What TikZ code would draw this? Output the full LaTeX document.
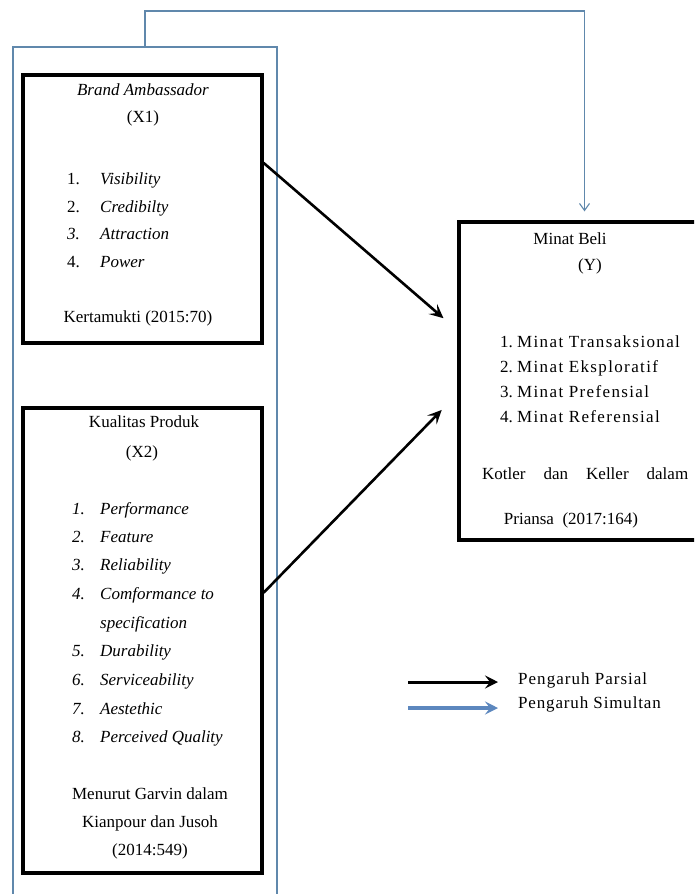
\documentclass[tikz,border=0pt]{standalone}
\usepackage{fontspec}
\setmainfont{Liberation Serif}
\usetikzlibrary{arrows.meta,calc}
\definecolor{lineblue}{RGB}{96,136,172}
\definecolor{legblue}{RGB}{92,135,190}
\begin{document}
\begin{tikzpicture}[x=1pt,y=-1pt,
  txt/.style={inner sep=0pt, font=\fontsize{17}{20}\selectfont},
  lft/.style={txt, anchor=mid west},
  ctr/.style={txt, anchor=mid},
  wide/.style={font=\fontsize{17}{20}\selectfont\addfontfeatures{LetterSpace=#1}},
  varbox/.style={draw=black, line width=3.2pt, inner sep=0pt},
  grpbox/.style={draw=lineblue, line width=1.1pt, inner sep=0pt},
  partial/.style={draw=black, line width=2.6pt, -{Stealth[length=14pt,width=13pt,inset=6pt]}},
  simul/.style={draw=lineblue, line width=1.1pt, -{Straight Barb[length=7pt,width=10pt]}}
]
\useasboundingbox (0,0) rectangle (694,894);
\clip (0,0) rectangle (694,894);
\fill[white] (0,0) rectangle (694,894);

% boxes
\node[grpbox, minimum width=264pt, minimum height=863pt] (grp) at (145,478.5) {};
\node[varbox, minimum width=239pt, minimum height=268pt] (x1) at (142.5,209) {};
\node[varbox, minimum width=239pt, minimum height=465pt] (x2) at (142.5,640.5) {};
\node[varbox, minimum width=251pt, minimum height=318pt] (y) at (584.5,381) {};

% X1 text
\node[ctr] (x1t) at (143,93) {\textit{Brand Ambassador}};
\node[ctr] (x1v) at (143,120) {(X1)};
\node[lft] (x1n1) at (67,182) {1.};   \node[lft] (x1i1) at (100,182) {\textit{Visibility}};
\node[lft] (x1n2) at (67,210) {2.};   \node[lft] (x1i2) at (100,210) {\textit{Credibilty}};
\node[lft] (x1n3) at (67,237) {\textit{3.}}; \node[lft] (x1i3) at (100,237) {\textit{Attraction}};
\node[lft] (x1n4) at (67,265) {4.};   \node[lft] (x1i4) at (100,265) {\textit{Power}};
\node[ctr] (x1s) at (138,320) {Kertamukti (2015:70)};

% X2 text
\node[ctr] (x2t) at (144,425) {Kualitas Produk};
\node[ctr] (x2v) at (142,455) {(X2)};
\node[lft] (x2n1) at (72,512) {\textit{1.}}; \node[lft] (x2i1) at (100,512) {\textit{Performance}};
\node[lft] (x2n2) at (72,540) {\textit{2.}}; \node[lft] (x2i2) at (100,540) {\textit{Feature}};
\node[lft] (x2n3) at (72,568) {\textit{3.}}; \node[lft] (x2i3) at (100,568) {\textit{Reliability}};
\node[lft] (x2n4) at (72,597) {\textit{4.}}; \node[lft] (x2i4) at (100,597) {\textit{Comformance to}};
\node[lft] (x2i4b) at (100,626) {\textit{specification}};
\node[lft] (x2n5) at (72,654) {\textit{5.}}; \node[lft] (x2i5) at (100,654) {\textit{Durability}};
\node[lft] (x2n6) at (72,683) {\textit{6.}}; \node[lft] (x2i6) at (100,683) {\textit{Serviceability}};
\node[lft] (x2n7) at (72,712) {\textit{7.}}; \node[lft] (x2i7) at (100,712) {\textit{Aestethic}};
\node[lft] (x2n8) at (72,740) {\textit{8.}}; \node[lft] (x2i8) at (100,740) {\textit{Perceived Quality}};
\node[ctr] (x2s1) at (150,797) {Menurut Garvin dalam};
\node[ctr] (x2s2) at (150,825) {Kianpour dan Jusoh};
\node[ctr] (x2s3) at (150,853) {(2014:549)};

% Y text
\node[ctr] (yt) at (570,242) {Minat Beli};
\node[ctr] (yv) at (590,268) {(Y)};
\node[lft] (yn1) at (500,345) {1.}; \node[lft, wide=8] (yi1) at (517,345) {Minat Transaksional};
\node[lft] (yn2) at (500,370) {2.}; \node[lft, wide=8] (yi2) at (517,370) {Minat Eksploratif};
\node[lft] (yn3) at (500,395) {3.}; \node[lft, wide=8] (yi3) at (517,395) {Minat Prefensial};
\node[lft] (yn4) at (500,420) {4.}; \node[lft, wide=8] (yi4) at (517,420) {Minat Referensial};
\node[lft] (ys1) at (482,477) {\makebox[206pt][s]{Kotler dan Keller dalam}};
\node[ctr] (ys2) at (571,522) {Priansa\ \ (2017:164)};

% connectors
\draw[partial, shorten >=18.4pt] ($(x1.north east)!0.33!(x1.south east)$) -- ($(y.north west)!0.342!(y.south west)$);
\draw[partial, shorten >=22.5pt] ($(x2.north east)!0.398!(x2.south east)$) -- ($(y.north west)!0.54!(y.south west)$);
\coordinate (top) at (584.5,11);
\draw[simul, shorten >=9pt] (grp.north) |- (top) -- (y.north);

% legend
\coordinate (l1a) at (408,682); \coordinate (l1b) at (498,682);
\coordinate (l2a) at (408,708); \coordinate (l2b) at (498,708);
\draw[black, line width=3pt, -{Stealth[length=13pt,width=13pt,inset=5pt]}] (l1a) -- (l1b);
\draw[legblue, line width=3.4pt, -{Stealth[length=13pt,width=13pt,inset=5pt]}] (l2a) -- (l2b);
\node[lft, wide=6] (lg1) at (518,682) {Pengaruh Parsial};
\node[lft, wide=5] (lg2) at (518,706) {Pengaruh Simultan};
\end{tikzpicture}
\end{document}
